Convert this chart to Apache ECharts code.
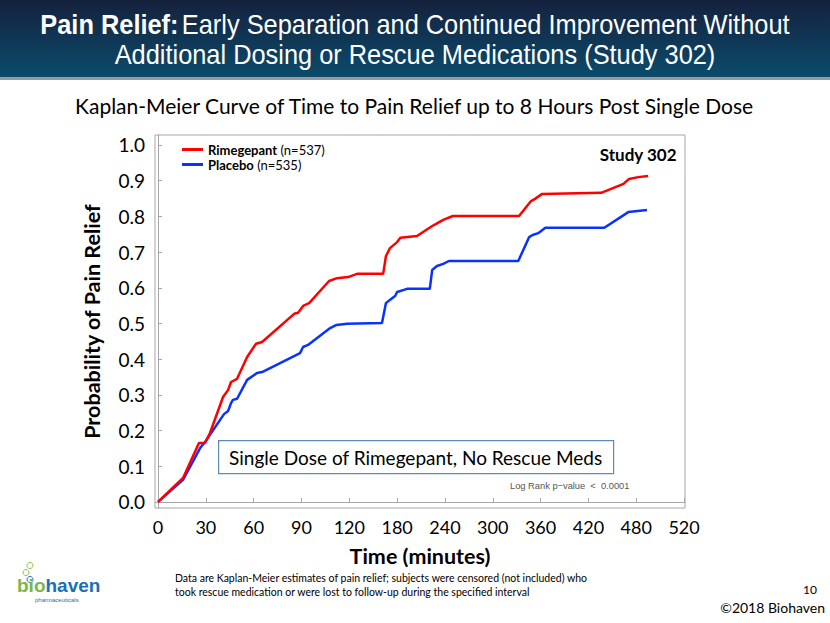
<!DOCTYPE html>
<html>
<head>
<meta charset="utf-8">
<script src="https://cdn.jsdelivr.net/npm/echarts@6/dist/echarts.min.js"></script>
<style>
html,body{margin:0;padding:0;background:#fff;}
#chart{width:830px;height:623px;}
</style>
</head>
<body>
<div id="chart"></div>
<script>
// ---- Data ----
var tickMinutes = [0, 30, 60, 90, 120, 180, 240, 300, 360, 420, 480, 520];
var yTicks = [0, 0.1, 0.2, 0.3, 0.4, 0.5, 0.6, 0.7, 0.8, 0.9, 1.0];

var rimeName = 'Rimegepant';
var rimeN = '(n=537)';
var rimeTime = [0, 15.7, 25.7, 29.5, 32.6, 40.8, 44, 45.8, 49.6, 55.9, 61.5, 65.3, 85.4, 87.9, 91, 94.8, 107.3, 112.3, 119.2, 129.8, 162.5, 166, 171, 180, 184, 205, 224, 229, 237.8, 250, 333, 348, 353, 362, 436, 464, 471, 481.6, 490];
var rimeProb = [0, 0.067, 0.165, 0.165, 0.193, 0.294, 0.314, 0.336, 0.345, 0.406, 0.443, 0.448, 0.527, 0.530, 0.549, 0.557, 0.619, 0.627, 0.630, 0.639, 0.639, 0.689, 0.711, 0.728, 0.740, 0.745, 0.773, 0.779, 0.790, 0.801, 0.801, 0.843, 0.849, 0.863, 0.866, 0.891, 0.905, 0.910, 0.913];

var placName = 'Placebo';
var placN = '(n=535)';
var placTime = [0, 15.7, 26.4, 29.5, 41.4, 44, 45.8, 47, 49.6, 55.9, 62.1, 65.3, 89.1, 91, 94.1, 108, 112, 118.6, 161, 166, 170.9, 177.5, 180, 192.5, 221, 224, 230, 237.8, 245, 332, 345.7, 350, 357, 366, 440, 470, 489];
var placProb = [0, 0.062, 0.151, 0.168, 0.246, 0.255, 0.277, 0.286, 0.289, 0.342, 0.361, 0.364, 0.417, 0.434, 0.440, 0.487, 0.496, 0.499, 0.501, 0.557, 0.566, 0.577, 0.588, 0.597, 0.597, 0.650, 0.661, 0.667, 0.675, 0.675, 0.742, 0.748, 0.753, 0.768, 0.768, 0.812, 0.818];

// The reference's time axis spaces its tick labels evenly (piecewise-linear).
function toPos(m) {
  for (var i = 0; i < tickMinutes.length - 1; i++) {
    var a = tickMinutes[i], b = tickMinutes[i + 1];
    if (m <= b) return i + (m - a) / (b - a);
  }
  return tickMinutes.length - 1;
}
function build(times, probs) {
  return times.map(function (t, i) { return [toPos(t), probs[i]]; });
}

var chart = echarts.init(document.getElementById('chart'), null, { renderer: 'svg' });
var calibri = 'Lato, "Open Sans", sans-serif';
var arial = '"Liberation Sans", Arial, sans-serif';
var tickIdx = tickMinutes.map(function (_, i) { return i; });

var option = {
  backgroundColor: '#ffffff',
  animation: false,
  grid: {
    left: 155, right: 145, top: 135, bottom: 115,
    show: true, borderColor: '#a6a6a6', borderWidth: 1, backgroundColor: 'transparent'
  },
  legend: {
    orient: 'vertical',
    left: 177, top: 138,
    itemWidth: 21, itemHeight: 3, itemGap: 2,
    icon: 'rect',
    data: [rimeName, placName],
    formatter: function (name) {
      return '{b|' + name + '} {n|' + (name === rimeName ? rimeN : placN) + '}';
    },
    textStyle: {
      lineHeight: 13,
      rich: {
        b: { fontFamily: calibri, fontWeight: 'bold', fontSize: 13, lineHeight: 13, color: '#000' },
        n: { fontFamily: calibri, fontSize: 13, lineHeight: 13, color: '#000' }
      }
    }
  },
  xAxis: {
    type: 'value',
    min: -0.063, max: 11.02,
    name: 'Time (minutes)',
    nameLocation: 'middle',
    nameGap: 37,
    nameTextStyle: { fontFamily: calibri, fontWeight: 'bold', fontSize: 21.5, color: '#000' },
    axisLine: { show: true, lineStyle: { color: '#a6a6a6' } },
    axisTick: { show: true, inside: true, length: 4, customValues: tickIdx, lineStyle: { color: '#a6a6a6' } },
    axisLabel: {
      customValues: tickIdx,
      margin: 10,
      fontFamily: calibri, fontSize: 18, color: '#000',
      formatter: function (v) { return String(tickMinutes[Math.round(v)]); }
    },
    splitLine: { show: false }
  },
  yAxis: {
    type: 'value',
    min: -0.017, max: 1.028,
    name: 'Probability of Pain Relief',
    nameLocation: 'middle',
    nameGap: 52,
    nameTextStyle: { fontFamily: calibri, fontWeight: 'bold', fontSize: 21.5, color: '#000' },
    axisLine: { show: true, lineStyle: { color: '#a6a6a6' } },
    axisTick: { show: true, inside: true, length: 4, customValues: yTicks, lineStyle: { color: '#a6a6a6' } },
    axisLabel: {
      customValues: yTicks,
      margin: 10,
      fontFamily: calibri, fontSize: 19, color: '#000',
      formatter: function (v) { return v.toFixed(1); }
    },
    splitLine: { show: false }
  },
  series: [
    {
      name: rimeName, type: 'line', data: build(rimeTime, rimeProb),
      showSymbol: false, lineStyle: { color: '#ff0000', width: 2.5 }, itemStyle: { color: '#ff0000' }, z: 3
    },
    {
      name: placName, type: 'line', data: build(placTime, placProb),
      showSymbol: false, lineStyle: { color: '#0a32ff', width: 2.5 }, itemStyle: { color: '#0a32ff' }, z: 2
    }
  ],
  graphic: [
    // header band
    { type: 'rect', left: 0, top: 0, shape: { width: 830, height: 80 }, style: { fill: '#9a9a9a' }, z: 1 },
    { type: 'rect', left: 0, top: 0, shape: { width: 830, height: 77 },
      style: { fill: new echarts.graphic.LinearGradient(0, 0, 0, 1, [
        { offset: 0, color: '#15213d' }, { offset: 1, color: '#0b4b6c' }]) }, z: 2 },
    { type: 'group', x: 415, y: 0, scaleX: 0.94, z: 3, children: [
      { type: 'text', x: 0, y: 25, z: 3,
        style: { text: '{b|Pain Relief:} {r|Early Separation and Continued Improvement Without}',
          align: 'center', verticalAlign: 'middle',
          rich: {
            b: { fontFamily: arial, fontWeight: 'bold', fontSize: 27, fill: '#fff' },
            r: { fontFamily: arial, fontSize: 27, fill: '#fff' }
          } } },
      { type: 'text', x: 0, y: 55, z: 3,
        style: { text: 'Additional Dosing or Rescue Medications (Study 302)',
          align: 'center', verticalAlign: 'middle',
          fontFamily: arial, fontSize: 27, fill: '#fff' } }
    ] },
    // subtitle
    { type: 'text', left: 'center', top: 95,
      style: { text: 'Kaplan-Meier Curve of Time to Pain Relief up to 8 Hours Post Single Dose',
        fontFamily: calibri, fontSize: 21, fill: '#000' } },
    // study label
    { type: 'text', right: 153, top: 146,
      style: { text: 'Study 302', fontFamily: calibri, fontWeight: 'bold', fontSize: 17, fill: '#000' } },
    // annotation box
    { type: 'group', left: 218, top: 440, children: [
      { type: 'rect', shape: { x: 0, y: 0, width: 395, height: 33 }, style: { fill: '#fff', stroke: '#5b8db3', lineWidth: 1.2 } },
      { type: 'text', x: 197, y: 17, style: { text: 'Single Dose of Rimegepant, No Rescue Meds', align: 'center', verticalAlign: 'middle',
        fontFamily: calibri, fontSize: 19, fill: '#000' } }
    ] },
    { type: 'text', left: 510, top: 481,
      style: { text: 'Log Rank p\u2212value  <  0.0001', fontFamily: arial, fontSize: 9.3, fill: '#555' } },
    // footnote
    { type: 'text', left: 175, top: 571,
      style: { text: 'Data are Kaplan-Meier estimates of pain relief; subjects were censored (not included) who\ntook rescue medication or were lost to follow-up during the specified interval',
        fontFamily: calibri, fontSize: 10.5, lineHeight: 14, fill: '#000' } },
    { type: 'text', right: 13, top: 583,
      style: { text: '10', fontFamily: calibri, fontSize: 12, fill: '#000' } },
    { type: 'text', right: 5, top: 600,
      style: { text: '\u00a92018 Biohaven', fontFamily: calibri, fontSize: 14, fill: '#000' } },
    // logo
    { type: 'group', left: 17, top: 560, children: [
      { type: 'circle', shape: { cx: 14, cy: 5, r: 3 }, style: { fill: 'none', stroke: '#8cc63f', lineWidth: 1 } },
      { type: 'circle', shape: { cx: 10, cy: 12, r: 3 }, style: { fill: 'none', stroke: '#8cc63f', lineWidth: 1 } },
      { type: 'circle', shape: { cx: 14, cy: 19, r: 3 }, style: { fill: 'none', stroke: '#1b75bc', lineWidth: 1 } },
      { type: 'text', x: 1, y: 15, style: { text: '{g|bio}{b|haven}',
        rich: {
          g: { fontFamily: arial, fontSize: 19, fontWeight: 'bold', fill: '#7ab648' },
          b: { fontFamily: arial, fontSize: 19, fontWeight: 'bold', fill: '#1b6fb5' }
        } } },
      { type: 'text', x: 19, y: 36, style: { text: 'pharmaceuticals', fontFamily: arial, fontSize: 6, fill: '#1b6fb5' } }
    ] }
  ]
};
chart.setOption(option);
</script>
</body>
</html>
